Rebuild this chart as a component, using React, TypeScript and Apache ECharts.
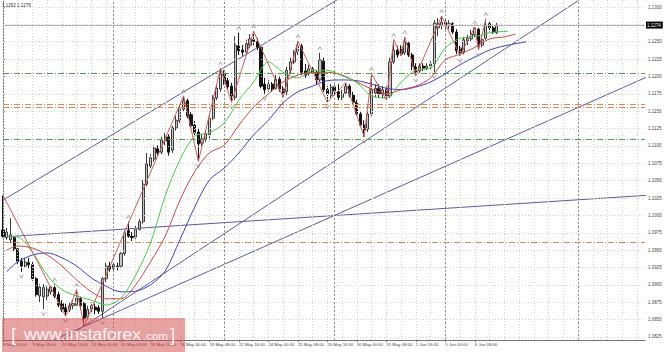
import React, { useEffect, useRef } from "react";
import * as echarts from "echarts";

// ---- time axis (H4 bars, one label every 8 bars) ----
const timeLabels = [
  "8 May 00:00", "9 May 08:00", "10 May 16:00", "12 May 00:00", "15 May 08:00",
  "16 May 16:00", "18 May 00:00", "19 May 08:00", "22 May 16:00", "24 May 00:00",
  "25 May 08:00", "26 May 16:00", "30 May 00:00", "31 May 08:00", "1 Jun 16:00",
  "5 Jun 00:00", "6 Jun 08:00",
];
const barsPerLabel = 8;
const weekStarts = [30, 60, 90, 120, 156];

// ---- price axis ----
const priceTicks = [
  "1.0825", "1.0850", "1.0875", "1.0900", "1.0925", "1.0950", "1.0975", "1.1000",
  "1.1025", "1.1050", "1.1075", "1.1100", "1.1125", "1.1150", "1.1175", "1.1200",
  "1.1225", "1.1250", "1.1300",
];
const gridPrices = [
  1.0825, 1.085, 1.0875, 1.09, 1.0925, 1.095, 1.0975, 1.1, 1.1025, 1.105, 1.1075,
  1.11, 1.1125, 1.115, 1.1175, 1.12, 1.1225, 1.125, 1.1275, 1.13,
];
const currentPrice = 1.1274;

// ---- candles ----
const opens = [
  1.0979, 1.0968, 1.0965, 1.0968, 1.0952, 1.0934, 1.0927, 1.0932, 1.0929, 1.0909,
  1.0884, 1.0883, 1.0884, 1.0890, 1.0896, 1.0886, 1.0873, 1.0867, 1.0864, 1.0870,
  1.0871, 1.0880, 1.0873, 1.0854, 1.0865, 1.0868, 1.0867, 1.0862, 1.0909, 1.0927,
  1.0924, 1.0927, 1.0927, 1.0945, 1.0978, 1.0970, 1.0969, 1.0980, 1.0991, 1.1045,
  1.1071, 1.1081, 1.1096, 1.1091, 1.1107, 1.1113, 1.1094, 1.1126, 1.1136, 1.1153,
  1.1165, 1.1145, 1.1130, 1.1120, 1.1104, 1.1110, 1.1116, 1.1140, 1.1169, 1.1182,
  1.1205, 1.1194, 1.1186, 1.1170, 1.1244, 1.1238, 1.1235, 1.1245, 1.1253, 1.1250,
  1.1242, 1.1189, 1.1182, 1.1189, 1.1183, 1.1196, 1.1182, 1.1178, 1.1209, 1.1221,
  1.1235, 1.1244, 1.1208, 1.1204, 1.1211, 1.1206, 1.1195, 1.1222, 1.1181, 1.1173,
  1.1185, 1.1178, 1.1170, 1.1176, 1.1186, 1.1173, 1.1163, 1.1146, 1.1130, 1.1124,
  1.1146, 1.1176, 1.1183, 1.1175, 1.1181, 1.1172, 1.1221, 1.1238, 1.1241, 1.1234,
  1.1248, 1.1231, 1.1215, 1.1208, 1.1215, 1.1212, 1.1215, 1.1218, 1.1270, 1.1274,
  1.1278, 1.1273, 1.1276, 1.1264, 1.1241, 1.1235, 1.1251, 1.1254, 1.1260, 1.1268,
  1.1245, 1.1255, 1.1276, 1.1270, 1.1263,
];
const closes = [
  1.0970, 1.0976, 1.0972, 1.0952, 1.0934, 1.0927, 1.0933, 1.0929, 1.0909, 1.0886,
  1.0897, 1.0896, 1.0894, 1.0897, 1.0884, 1.0871, 1.0865, 1.0861, 1.0870, 1.0873,
  1.0881, 1.0870, 1.0852, 1.0865, 1.0870, 1.0864, 1.0862, 1.0909, 1.0927, 1.0923,
  1.0929, 1.0926, 1.0945, 1.0975, 1.0970, 1.0968, 1.0980, 1.0991, 1.1045, 1.1074,
  1.1083, 1.1097, 1.1090, 1.1109, 1.1113, 1.1091, 1.1126, 1.1137, 1.1155, 1.1165,
  1.1143, 1.1129, 1.1119, 1.1103, 1.1110, 1.1117, 1.1140, 1.1169, 1.1183, 1.1204,
  1.1192, 1.1185, 1.1172, 1.1245, 1.1237, 1.1235, 1.1247, 1.1254, 1.1250, 1.1242,
  1.1186, 1.1181, 1.1189, 1.1182, 1.1196, 1.1182, 1.1176, 1.1209, 1.1221, 1.1235,
  1.1245, 1.1206, 1.1202, 1.1211, 1.1206, 1.1195, 1.1224, 1.1181, 1.1175, 1.1185,
  1.1179, 1.1170, 1.1175, 1.1186, 1.1173, 1.1163, 1.1146, 1.1130, 1.1123, 1.1146,
  1.1181, 1.1183, 1.1175, 1.1181, 1.1172, 1.1221, 1.1238, 1.1231, 1.1232, 1.1250,
  1.1231, 1.1215, 1.1206, 1.1215, 1.1212, 1.1215, 1.1218, 1.1277, 1.1276, 1.1278,
  1.1273, 1.1276, 1.1264, 1.1237, 1.1234, 1.1253, 1.1255, 1.1261, 1.1270, 1.1244,
  1.1253, 1.1274, 1.1270, 1.1264, 1.1274,
];
const highs = [
  1.1029, 1.0982, 1.0996, 1.0970, 1.0953, 1.0939, 1.0939, 1.0939, 1.0933, 1.0911,
  1.0901, 1.0901, 1.0898, 1.0898, 1.0901, 1.0890, 1.0878, 1.0873, 1.0874, 1.0878,
  1.0893, 1.0883, 1.0875, 1.0870, 1.0875, 1.0873, 1.0871, 1.0911, 1.0932, 1.0933,
  1.0933, 1.0932, 1.0947, 1.0978, 1.0991, 1.0976, 1.0985, 1.0995, 1.1051, 1.1090,
  1.1088, 1.1101, 1.1101, 1.1113, 1.1119, 1.1117, 1.1129, 1.1143, 1.1160, 1.1172,
  1.1168, 1.1149, 1.1136, 1.1126, 1.1117, 1.1123, 1.1145, 1.1173, 1.1188, 1.1212,
  1.1209, 1.1198, 1.1191, 1.1258, 1.1263, 1.1245, 1.1253, 1.1261, 1.1265, 1.1255,
  1.1245, 1.1198, 1.1195, 1.1192, 1.1202, 1.1201, 1.1186, 1.1214, 1.1227, 1.1238,
  1.1251, 1.1247, 1.1218, 1.1217, 1.1215, 1.1209, 1.1234, 1.1227, 1.1186, 1.1189,
  1.1188, 1.1189, 1.1181, 1.1191, 1.1189, 1.1178, 1.1166, 1.1149, 1.1137, 1.1149,
  1.1204, 1.1189, 1.1189, 1.1186, 1.1186, 1.1227, 1.1253, 1.1244, 1.1245, 1.1257,
  1.1251, 1.1234, 1.1219, 1.1219, 1.1219, 1.1219, 1.1222, 1.1281, 1.1284, 1.1287,
  1.1283, 1.1281, 1.1278, 1.1268, 1.1244, 1.1257, 1.1260, 1.1267, 1.1271, 1.1270,
  1.1258, 1.1283, 1.1280, 1.1274, 1.1277,
];
const lows = [
  1.0968, 1.0965, 1.0960, 1.0949, 1.0930, 1.0919, 1.0924, 1.0924, 1.0906, 1.0883,
  1.0875, 1.0865, 1.0878, 1.0886, 1.0881, 1.0868, 1.0861, 1.0855, 1.0861, 1.0865,
  1.0868, 1.0864, 1.0841, 1.0850, 1.0860, 1.0858, 1.0858, 1.0852, 1.0904, 1.0919,
  1.0921, 1.0921, 1.0924, 1.0942, 1.0968, 1.0963, 1.0966, 1.0978, 1.0988, 1.1042,
  1.1067, 1.1077, 1.1086, 1.1088, 1.1101, 1.1086, 1.1090, 1.1122, 1.1133, 1.1150,
  1.1140, 1.1126, 1.1114, 1.1078, 1.1099, 1.1106, 1.1111, 1.1137, 1.1166, 1.1178,
  1.1188, 1.1181, 1.1163, 1.1166, 1.1231, 1.1230, 1.1232, 1.1241, 1.1245, 1.1238,
  1.1183, 1.1175, 1.1178, 1.1178, 1.1181, 1.1178, 1.1170, 1.1173, 1.1205, 1.1218,
  1.1231, 1.1202, 1.1198, 1.1201, 1.1204, 1.1189, 1.1192, 1.1178, 1.1163, 1.1169,
  1.1175, 1.1166, 1.1166, 1.1173, 1.1170, 1.1160, 1.1143, 1.1127, 1.1113, 1.1120,
  1.1143, 1.1170, 1.1170, 1.1168, 1.1166, 1.1169, 1.1218, 1.1227, 1.1230, 1.1231,
  1.1228, 1.1209, 1.1201, 1.1205, 1.1208, 1.1209, 1.1211, 1.1206, 1.1258, 1.1268,
  1.1268, 1.1268, 1.1261, 1.1232, 1.1230, 1.1232, 1.1245, 1.1251, 1.1257, 1.1238,
  1.1242, 1.1253, 1.1265, 1.1261, 1.1261,
];

// ---- Alligator lines as [bar, price] ----
const lipsPts = [
  [1, 1.0970], [4, 1.0969], [8, 1.0947], [12, 1.0914], [16, 1.0893], [20, 1.0884],
  [24, 1.0878], [28, 1.0871], [32, 1.0881], [36, 1.0914], [40, 1.0960], [44, 1.1028],
  [48, 1.1080], [52, 1.1114], [56, 1.1119], [60, 1.1133], [64, 1.1166], [68, 1.1192],
  [72, 1.1221], [76, 1.1206], [80, 1.1198], [84, 1.1209], [88, 1.1209], [92, 1.1201],
  [96, 1.1191], [100, 1.1172], [104, 1.1169], [108, 1.1192], [112, 1.1209], [116, 1.1212],
  [120, 1.1241], [124, 1.1255], [128, 1.1257], [132, 1.1263], [137, 1.1265],
];
const teethPts = [
  [1, 1.0950], [4, 1.0956], [8, 1.0953], [12, 1.0943], [16, 1.0927], [20, 1.0907],
  [24, 1.0890], [28, 1.0880], [32, 1.0880], [36, 1.0900], [40, 1.0933], [44, 1.0970],
  [48, 1.1022], [52, 1.1063], [56, 1.1090], [60, 1.1101], [64, 1.1130], [68, 1.1156],
  [72, 1.1175], [76, 1.1192], [80, 1.1202], [84, 1.1206], [88, 1.1206], [92, 1.1202],
  [96, 1.1192], [100, 1.1182], [104, 1.1175], [108, 1.1181], [112, 1.1186], [116, 1.1198],
  [120, 1.1224], [124, 1.1232], [128, 1.1242], [132, 1.1254], [136, 1.1257], [139, 1.1261],
];
const jawPts = [
  [1, 1.0919], [4, 1.0933], [8, 1.0943], [12, 1.0946], [16, 1.0939], [20, 1.0927],
  [24, 1.0910], [28, 1.0898], [32, 1.0890], [36, 1.0891], [40, 1.0900], [44, 1.0920],
  [48, 1.0965], [52, 1.1012], [56, 1.1051], [60, 1.1068], [64, 1.1090], [68, 1.1116],
  [72, 1.1137], [76, 1.1162], [80, 1.1178], [84, 1.1186], [88, 1.1194], [92, 1.1195],
  [96, 1.1194], [100, 1.1189], [104, 1.1183], [108, 1.1181], [112, 1.1185], [116, 1.1192],
  [120, 1.1204], [124, 1.1217], [128, 1.1228], [132, 1.1238], [136, 1.1244], [142, 1.1250],
];

// ---- ZigZag pivots and fractals (bar index, high/low) ----
const zigzagPivots: [number, "H" | "L"][] = [
  [0, "H"], [17, "L"], [20, "H"], [22, "L"], [49, "H"], [53, "L"], [59, "H"], [62, "L"],
  [68, "H"], [76, "L"], [80, "H"], [88, "L"], [93, "H"], [98, "L"], [100, "H"], [104, "L"],
  [106, "H"], [108, "L"], [109, "H"], [112, "L"], [119, "H"], [124, "L"], [128, "H"],
  [129, "L"], [131, "H"],
];
const fractalUp = [14, 20, 34, 49, 59, 64, 68, 80, 86, 100, 106, 109, 119, 128, 131];
const fractalDown = [5, 11, 17, 22, 27, 53, 62, 71, 76, 88, 98, 112, 117, 124, 129];

// ---- analyst drawings ----
const trendLines = [
  [[0, 1.1022], [100, 1.134]],
  [[10, 1.0799], [160, 1.1323]],
  [[10, 1.0812], [175, 1.12]],
  [[0, 1.0969], [175, 1.1029]],
];
const greenLevels = [1.1205, 1.111];
const orangeLevels = [1.116, 1.1156, 1.0961];

const FONT = "Liberation Sans, Arial, sans-serif";

export default function App() {
  const ref = useRef<HTMLDivElement>(null);

  useEffect(() => {
    if (!ref.current) return;
    const chart = echarts.init(ref.current, null, { renderer: "svg" });

    const labelIdx = timeLabels.map((_, k) => k * barsPerLabel);
    const tickVals = priceTicks.map(Number);
    const xMax = 174.17;
    const gridX: number[] = [];
    for (let v = 0; v <= 174; v += 4) gridX.push(v);

    const candleData = opens.map((o, i) => [i, o, closes[i], lows[i], highs[i]]);
    const zigzagData = zigzagPivots.map(([i, k]) => [i, k === "H" ? highs[i] : lows[i]]);

    const gridStyle = { color: "#d2d2d2", type: [1, 2] as any, width: 1 };
    const sepStyle = { color: "#8f8f8f", type: [2, 2] as any, width: 1 };

    const option: any = {
      animation: false,
      backgroundColor: "#ffffff",
      grid: { left: -3.8, right: 20, top: 0, bottom: 12, containLabel: false },
      xAxis: {
        type: "value",
        min: 0,
        max: xMax,
        axisLine: { show: true, lineStyle: { color: "#777", width: 1 } },
        axisTick: { show: true, customValues: labelIdx, length: 2, lineStyle: { color: "#777" } },
        axisLabel: {
          show: true,
          customValues: labelIdx,
          formatter: (v: number) => timeLabels[Math.round(v / barsPerLabel)] ?? "",
          align: "left",
          fontSize: 4.3,
          fontFamily: FONT,
          color: "#444",
          margin: 2,
        },
        splitLine: { show: false },
      },
      yAxis: {
        type: "value",
        position: "right",
        min: 1.082067,
        max: 1.131008,
        scale: true,
        axisLine: { show: true, lineStyle: { color: "#777", width: 1 } },
        axisTick: { show: true, customValues: tickVals, length: 2, lineStyle: { color: "#777" } },
        axisLabel: {
          show: true,
          customValues: tickVals,
          formatter: (v: number) => v.toFixed(4),
          fontSize: 4.5,
          fontFamily: FONT,
          color: "#444",
          margin: 3,
        },
        splitLine: { show: false },
      },
      series: [
        {
          type: "line",
          data: [],
          z: 1,
          silent: true,
          markLine: {
            silent: true,
            precision: 6,
            symbol: ["none", "none"],
            label: { show: false },
            data: [
              ...gridX.map((v) => ({ xAxis: v, lineStyle: gridStyle })),
              ...gridPrices.map((v) => ({ yAxis: v, lineStyle: gridStyle })),
              ...weekStarts.map((v) => ({ xAxis: v, lineStyle: sepStyle })),
            ],
          },
        },
        {
          type: "line",
          data: [],
          z: 2,
          silent: true,
          markLine: {
            silent: true,
            precision: 6,
            symbol: ["none", "none"],
            label: { show: false },
            data: [
              ...greenLevels.map((v) => ({
                yAxis: v,
                lineStyle: { color: "#4f9f4f", type: [6, 2, 1, 2], width: 1 },
              })),
              ...orangeLevels.map((v) => ({
                yAxis: v,
                lineStyle: { color: "#d98a55", type: [6, 2, 1, 2], width: 1 },
              })),
              {
                yAxis: currentPrice,
                lineStyle: { color: "#b4b4b4", type: "solid", width: 1 },
                label: {
                  show: true,
                  position: "end",
                  distance: 1,
                  formatter: currentPrice.toFixed(4),
                  backgroundColor: "#000",
                  color: "#fff",
                  fontSize: 4.5,
                  fontFamily: FONT,
                  padding: [1, 2, 1, 1],
                },
              },
            ],
          },
        },
        ...trendLines.map((pts) => ({
          type: "line",
          data: pts,
          z: 3,
          silent: true,
          showSymbol: false,
          clip: true,
          lineStyle: { color: "#5b5b9c", width: 1 },
        })),
        {
          type: "candlestick",
          data: candleData,
          encode: { x: 0, y: [1, 2, 3, 4] },
          z: 4,
          silent: true,
          barWidth: 2.6,
          clip: true,
          itemStyle: {
            color: "#c6c6c6",
            color0: "#141414",
            borderColor: "#3c3c3c",
            borderColor0: "#141414",
            borderWidth: 1,
          },
        },
        {
          type: "line",
          data: jawPts,
          z: 5,
          silent: true,
          showSymbol: false,
          smooth: 0.3,
          clip: true,
          lineStyle: { color: "#3f3fc4", width: 1 },
        },
        {
          type: "line",
          data: teethPts,
          z: 5,
          silent: true,
          showSymbol: false,
          smooth: 0.3,
          clip: true,
          lineStyle: { color: "#c94545", width: 1 },
        },
        {
          type: "line",
          data: lipsPts,
          z: 5,
          silent: true,
          showSymbol: false,
          smooth: 0.3,
          clip: true,
          lineStyle: { color: "#45c945", width: 1 },
        },
        {
          type: "line",
          data: zigzagData,
          z: 6,
          silent: true,
          showSymbol: false,
          clip: true,
          lineStyle: { color: "#cf5a5a", width: 1 },
        },
        {
          type: "scatter",
          data: fractalUp.map((i) => [i, highs[i]]),
          z: 7,
          silent: true,
          symbol: "path://M0,4 L2.5,0 L5,4 L3.9,4 L2.5,1.7 L1.1,4 Z",
          symbolSize: [5, 4],
          symbolOffset: [0, -5],
          itemStyle: { color: "#8e8e8e" },
        },
        {
          type: "scatter",
          data: fractalDown.map((i) => [i, lows[i]]),
          z: 7,
          silent: true,
          symbol: "path://M0,0 L2.5,4 L5,0 L3.9,0 L2.5,2.3 L1.1,0 Z",
          symbolSize: [5, 4],
          symbolOffset: [0, 5],
          itemStyle: { color: "#8e8e8e" },
        },
      ],
      graphic: [
        {
          type: "text",
          x: 2,
          y: 5,
          z: 50,
          style: {
            text: "1.1262 1.1279",
            fontSize: 4.5,
            fontFamily: FONT,
            fill: "#333",
            verticalAlign: "middle",
          },
        },
        {
          type: "rect",
          x: 2,
          y: 318,
          z: 100,
          shape: { width: 183, height: 34 },
          style: { fill: "rgba(210,70,70,0.5)" },
        },
        {
          type: "text",
          x: 11,
          y: 334,
          z: 101,
          style: {
            text: "[",
            fontSize: 19,
            fontFamily: FONT,
            fill: "rgba(255,255,255,0.9)",
            verticalAlign: "middle",
          },
        },
        {
          type: "text",
          x: 24,
          y: 334,
          z: 101,
          style: {
            text: "www.instaforex",
            fontSize: 17.4,
            fontFamily: FONT,
            fill: "rgba(255,255,255,0.9)",
            verticalAlign: "middle",
          },
        },
        {
          type: "text",
          x: 143,
          y: 336,
          z: 101,
          style: {
            text: ".com",
            fontSize: 11.5,
            fontFamily: FONT,
            fill: "rgba(255,255,255,0.9)",
            verticalAlign: "middle",
          },
        },
        {
          type: "text",
          x: 170,
          y: 334,
          z: 101,
          style: {
            text: "]",
            fontSize: 19,
            fontFamily: FONT,
            fill: "rgba(255,255,255,0.9)",
            verticalAlign: "middle",
          },
        },
      ],
    };

    chart.setOption(option);
    return () => chart.dispose();
  }, []);

  return (
    <div
      ref={ref}
      style={{ position: "absolute", left: 0, top: 0, width: 665, height: 352, background: "#fff" }}
    />
  );
}
